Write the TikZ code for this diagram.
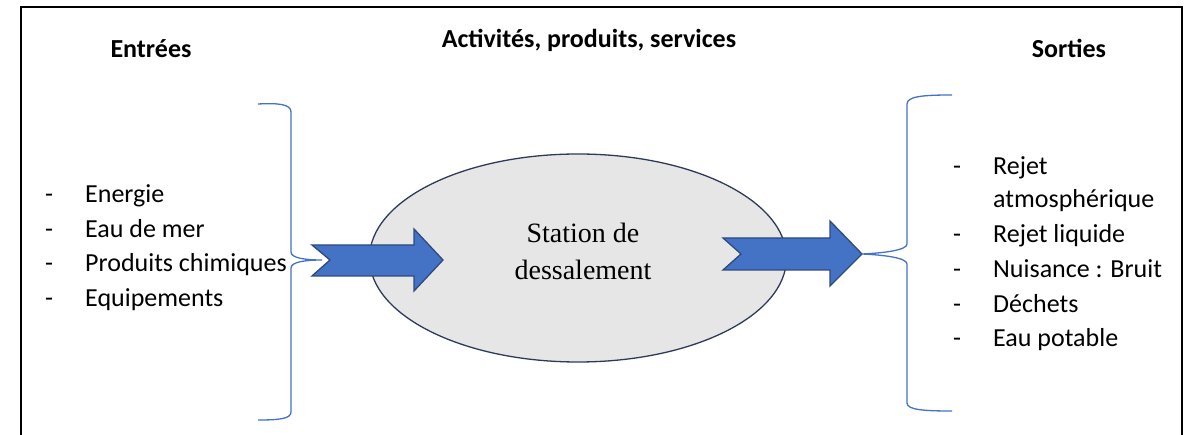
\documentclass[tikz,border=0pt]{standalone}
\usepackage{fontspec}
\setmainfont{Carlito}
\newfontfamily\serifft{Liberation Serif}
\usetikzlibrary{shapes.geometric}
\definecolor{braceblue}{HTML}{4472C4}
\definecolor{arrowblue}{HTML}{4472C4}
\definecolor{arrowedge}{HTML}{2F4A7F}
\definecolor{ellfill}{HTML}{E7E6E6}
\definecolor{elledge}{HTML}{2E3A59}
\begin{document}
\begin{tikzpicture}[x=1pt,y=-1pt,
  lbl/.style={inner sep=0pt, anchor=base west, font=\fontsize{26}{31}\selectfont, text=black},
  head/.style={inner sep=0pt, anchor=base, font=\fontsize{26}{31}\selectfont\bfseries, text=black},
  sertext/.style={inner sep=0pt, anchor=base, font=\serifft\fontsize{28}{34}\selectfont, text=black},
  brace/.style={draw=braceblue, line width=1.3pt},
  fatarrow/.style={fill=arrowblue, draw=arrowedge, line width=1.3pt, line join=miter}
]
\useasboundingbox (0,0) rectangle (1197,435);
% frame
\draw[line width=2pt] (21,436) -- (21,7) -- (1182,7) -- (1182,436);

% headings
\node[head] (hin) at (151,58) {Entrées};
\node[head] (hact) at (589,48) {Activités, produits, services};
\node[head] (hout) at (1069,58) {Sorties};

% inputs
\node[lbl] (in1) at (45,203) {\makebox[40pt][l]{-}Energie};
\node[lbl] (in2) at (45,238) {\makebox[40pt][l]{-}Eau de mer};
\node[lbl] (in3) at (45,272) {\makebox[40pt][l]{-}Produits chimiques};
\node[lbl] (in4) at (45,307) {\makebox[40pt][l]{-}Equipements};

% outputs
\node[lbl] (out1) at (953,175) {\makebox[40pt][l]{-}Rejet};
\node[lbl] (out1b) at (993,208) {atmosphérique};
\node[lbl] (out2) at (953,243) {\makebox[40pt][l]{-}Rejet liquide};
\node[lbl] (out3) at (953,278) {\makebox[40pt][l]{-}Nuisance : Bruit};
\node[lbl] (out4) at (953,313) {\makebox[40pt][l]{-}Déchets};
\node[lbl] (out5) at (953,347) {\makebox[40pt][l]{-}Eau potable};

% left brace
\coordinate (lbtip) at (322,260);
\draw[brace] (258,104) .. controls (278,103) and (291,104) .. (291,112)
  -- (291,252) .. controls (291,258) and (305,260) .. (lbtip)
  .. controls (305,260) and (291,262) .. (291,268)
  -- (291,412) .. controls (291,419) and (278,420) .. (258,420);

% station ellipse
\node[ellipse, draw=elledge, fill=ellfill, line width=1.3pt, minimum width=417pt, minimum height=208pt, inner sep=0pt] (station) at (578,258) {};
\node[sertext] (st1) at (583,243) {Station de};
\node[sertext] (st2) at (583,280) {dessalement};

% arrows
\draw[fatarrow] (312,245) -- (414,245) -- (414,229) -- (443,260) -- (414,291) -- (414,276) -- (312,276) -- (330,260) -- cycle;
\draw[fatarrow] (723,238) -- (830,238) -- (830,221) -- (862,254) -- (830,286) -- (830,270) -- (723,270) -- (741,254) -- cycle;
\coordinate (ratip) at (862,254);

% right brace
\draw[brace] (952,95) .. controls (925,95) and (907,96) .. (907,104)
  -- (907,244) .. controls (907,250) and (885,253) .. (ratip)
  .. controls (885,255) and (907,258) .. (907,264)
  -- (907,403) .. controls (907,410) and (925,411) .. (952,411);
\end{tikzpicture}
\end{document}
